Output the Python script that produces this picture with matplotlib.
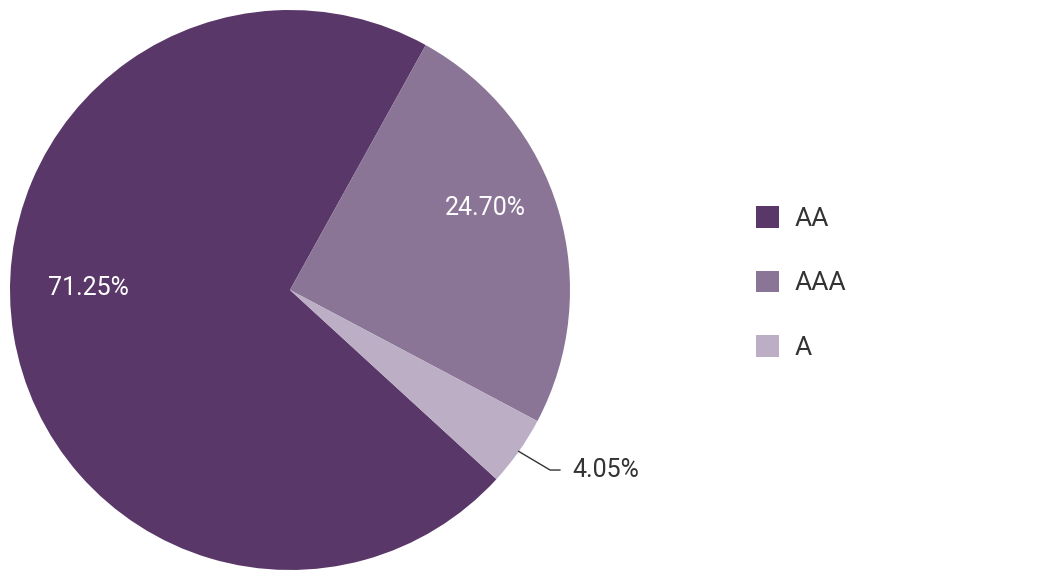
import numpy as np
import matplotlib.pyplot as plt
from matplotlib.patches import Patch

plt.rcParams['font.family'] = ['Roboto', 'DejaVu Sans']

labels = ['AA', 'AAA', 'A']
shares = [71.25, 24.70, 4.05]
colors = ['#593768', '#8a7597', '#bcaec5']

fig = plt.figure(figsize=(10.4, 5.8), dpi=100)
ax = fig.add_axes([10 / 1040, 10 / 580, 560 / 1040, 560 / 580])

wedges, _ = ax.pie(shares, colors=colors, startangle=-42.5, counterclock=False,
                   radius=1, wedgeprops=dict(linewidth=0))
ax.set_xlim(-1, 1)
ax.set_ylim(-1, 1)
ax.set_aspect('equal')
ax.axis('off')

# inside labels
ax.text(-0.721, 0.007, '71.25%', color='white', fontsize=18, ha='center', va='center')
ax.text(0.696, 0.293, '24.70%', color='white', fontsize=18, ha='center', va='center')

# outside label with leader line for the small slice
w = wedges[2]
mid = np.deg2rad((w.theta1 + w.theta2) / 2)
x0, y0 = np.cos(mid), np.sin(mid)
ax.plot([x0, 0.929, 0.964], [y0, -0.643, -0.643], color='#333333', lw=1, clip_on=False)
ax.text(1.007, -0.643, '4.05%', color='#333333', fontsize=18, ha='left', va='center')

handles = [Patch(facecolor=c, edgecolor='none') for c in colors]
fig.legend(handles, labels, loc='center left', bbox_to_anchor=(732 / 1040, 0.512),
           frameon=False, fontsize=19, handlelength=0.88, handleheight=0.88,
           handletextpad=0.6, labelspacing=1.5, labelcolor='#333333')

fig.savefig('out.png', dpi=100)
